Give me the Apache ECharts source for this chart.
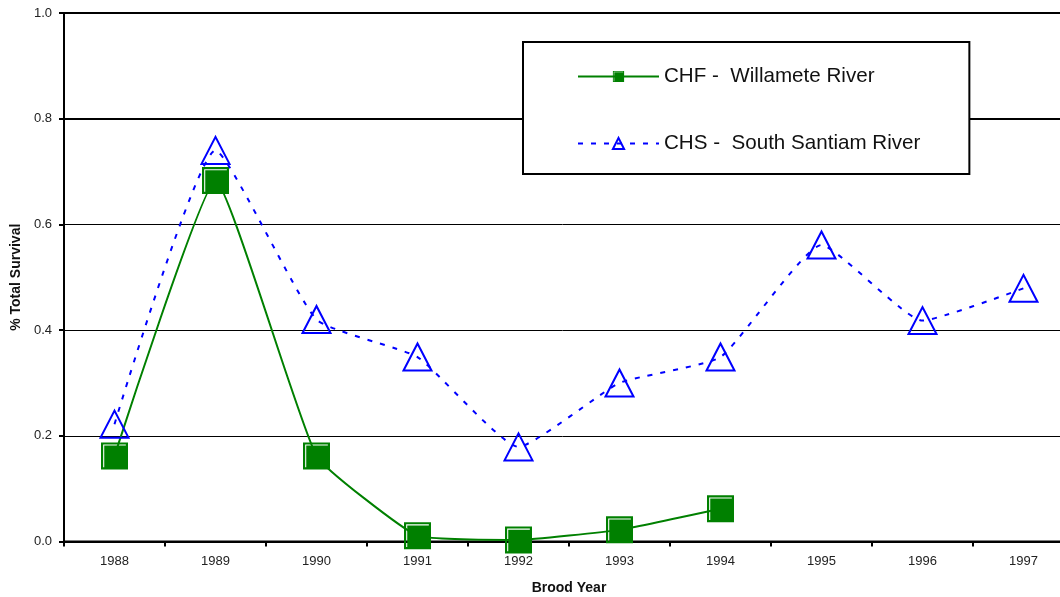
<!DOCTYPE html>
<html>
<head>
<meta charset="utf-8">
<script src="https://cdn.jsdelivr.net/npm/echarts@6/dist/echarts.min.js"></script>
<style>
html,body{margin:0;padding:0;background:#fff;}
#chart{width:1060px;height:597px;}
</style>
</head>
<body>
<div id="chart"></div>
<script>
const categories = ['1988','1989','1990','1991','1992','1993','1994','1995','1996','1997'];
const chfValues = [0.162, 0.683, 0.162, 0.011, 0.003, 0.022, 0.062, null, null, null];
const chsValues = [0.222, 0.740, 0.420, 0.349, 0.179, 0.300, 0.349, 0.561, 0.418, 0.479];
const seriesNames = ['CHF -  Willamete River', 'CHS -  South Santiam River'];
const yTicks = [0, 0.2, 0.4, 0.6, 0.8, 1.0];

const FONT = '"Liberation Sans", Arial, sans-serif';
const squarePath = 'path://M0 0H100V100H0Z M8 8V92H12V12H92V8Z';

const chart = echarts.init(document.getElementById('chart'), null, {renderer: 'canvas'});
chart.setOption({
  animation: false,
  backgroundColor: '#ffffff',
  textStyle: {fontFamily: FONT},
  grid: {
    left: 64, top: 13, height: 528.5, width: 1010,
    containLabel: false,
    outerBoundsMode: 'none',
    show: true, borderColor: '#000', borderWidth: 2, backgroundColor: 'transparent'
  },
  legend: {
    orient: 'vertical',
    left: 523, top: 42,
    padding: [24, 49, 20, 54],
    itemGap: 46,
    itemWidth: 81,
    itemHeight: 14,
    backgroundColor: '#fff',
    borderColor: '#000',
    borderWidth: 2,
    textStyle: {fontSize: 20.6, color: '#111', fontFamily: FONT},
    data: seriesNames
  },
  xAxis: {
    type: 'category',
    data: categories,
    boundaryGap: true,
    name: 'Brood Year',
    nameLocation: 'middle',
    nameGap: 40,
    nameTextStyle: {fontSize: 14, fontWeight: 'bold', color: '#111', fontFamily: FONT},
    axisLine: {lineStyle: {color: '#000', width: 2}},
    axisTick: {show: true, length: 5, lineStyle: {color: '#000', width: 2}},
    axisLabel: {fontSize: 13, color: '#222', margin: 13, fontFamily: FONT},
    splitLine: {show: false}
  },
  yAxis: {
    type: 'value',
    min: 0, max: 1.0, interval: 0.2,
    name: '% Total Survival',
    nameLocation: 'middle',
    nameGap: 38,
    nameRotate: 90,
    nameTextStyle: {fontSize: 14, fontWeight: 'bold', color: '#111', fontFamily: FONT},
    axisLine: {show: true, lineStyle: {color: '#000', width: 2}},
    axisTick: {show: true, length: 5, lineStyle: {color: '#000', width: 2}},
    axisLabel: {fontSize: 13, color: '#222', margin: 12, fontFamily: FONT,
      formatter: v => v.toFixed(1)},
    splitLine: {show: true, lineStyle: {color: '#000', width: 1}}
  },
  series: [
    {
      name: seriesNames[0],
      type: 'line',
      data: chfValues,
      smooth: 0.12,
      connectNulls: false,
      symbol: squarePath,
      symbolSize: 27,
      z: 3,
      lineStyle: {color: '#008000', width: 2},
      itemStyle: {color: '#008000', borderWidth: 0},
      markLine: {
        silent: true, symbol: 'none', label: {show: false},
        lineStyle: {color: '#000', width: 2, type: 'solid'},
        data: [{yAxis: yTicks[4]}],
        z: 1
      }
    },
    {
      name: seriesNames[1],
      type: 'line',
      data: chsValues,
      smooth: 0.15,
      symbol: 'triangle',
      symbolSize: [28, 27],
      z: 4,
      lineStyle: {color: '#0000ff', width: 2, type: [5, 8]},
      itemStyle: {color: 'rgba(0,0,0,0)', borderColor: '#0000ff', borderWidth: 2}
    }
  ]
});
</script>
</body>
</html>
